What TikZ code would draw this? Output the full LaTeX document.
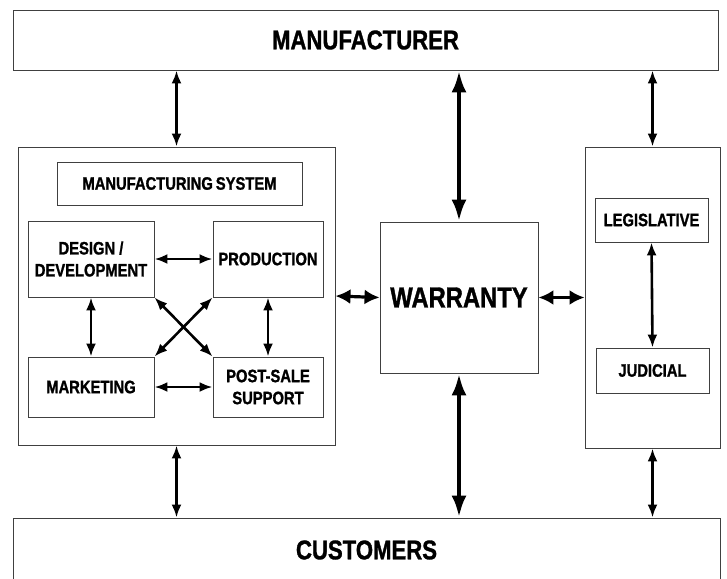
\documentclass[tikz,border=0pt]{standalone}
\usepackage{fontspec}
\setmainfont{Liberation Sans}[FakeStretch=0.82,BoldFeatures={FakeBold=1.2}]
\usetikzlibrary{arrows.meta}
\tikzset{
  box/.style={draw=black!75,line width=0.9pt,fill=white,inner sep=0pt,align=center,
              font=\fontsize{18}{22}\selectfont\bfseries},
  link/.style={{Latex[length=13pt,width=10pt]}-{Latex[length=13pt,width=10pt]},line width=2.6pt},
  mainlink/.style={{Latex[length=22pt,width=15pt]}-{Latex[length=22pt,width=15pt]},line width=4.5pt},
  sidelink/.style={{Latex[length=15pt,width=15pt]}-{Latex[length=15pt,width=15pt]},line width=3.2pt}
}

\begin{document}
\begin{tikzpicture}[x=1pt,y=-1pt]
    \useasboundingbox (0,0) rectangle (727,578);
    % outer parties
    \node[box,minimum width=705,minimum height=60,font=\fontsize{27}{30}\selectfont\bfseries] (mfr) at (365.5,40) {MANUFACTURER};
    \node[box,minimum width=707,minimum height=64,font=\fontsize{27}{30}\selectfont\bfseries] (cust) at (366.5,550) {CUSTOMERS};
    % manufacturing system
    \node[box,minimum width=317,minimum height=298] (lsys) at (176.5,296) {};
    \node[box,minimum width=245,minimum height=43] (mfgsys) at (179.5,183.5) {MANUFACTURING\,SYSTEM};
    \node[box,minimum width=126,minimum height=76] (design) at (91,259) {DESIGN /\\DEVELOPMENT};
    \node[box,minimum width=110,minimum height=76] (prod) at (268,259) {PRODUCTION};
    \node[box,minimum width=126,minimum height=60] (mkt) at (91,387) {MARKETING};
    \node[box,minimum width=110,minimum height=60] (pss) at (268,387) {POST-SALE\\SUPPORT};
    % warranty in the middle
    \node[box,minimum width=158,minimum height=151,font=\fontsize{29}{30}\selectfont\bfseries] (warr) at (459,297.5) {WARRANTY};
    % legal system
    \node[box,minimum width=135,minimum height=301] (rsys) at (652.5,297.5) {};
    \node[box,minimum width=113,minimum height=44] (legis) at (651.5,220) {LEGISLATIVE};
    \node[box,minimum width=113,minimum height=45] (jud) at (652.5,370.5) {JUDICIAL};

    \draw[link] (lsys.north |- mfr.south) -- (lsys.north);
    \draw[link] (rsys.north |- mfr.south) -- (rsys.north);
    \draw[link] (lsys.south) -- (lsys.south |- cust.north);
    \draw[link] (rsys.south) -- (rsys.south |- cust.north);
    \draw[mainlink] (warr.north |- mfr.south) -- (warr.north);
    \draw[mainlink] (warr.south) -- (warr.south |- cust.north);
    \draw[sidelink] (lsys.east) -- (warr.west);
    \draw[sidelink] (warr.east) -- (rsys.west);

    \draw[link] (design.east) -- (prod.west);
    \draw[link] (mkt.east) -- (pss.west);
    \draw[link] (design.south) -- (mkt.north);
    \draw[link] (prod.south) -- (pss.north);
    \draw[link] (design.south east) -- (pss.north west);
    \draw[link] (prod.south west) -- (mkt.north east);
    \draw[link] (legis.south) -- (jud.north);
  \end{tikzpicture}
\end{document}
